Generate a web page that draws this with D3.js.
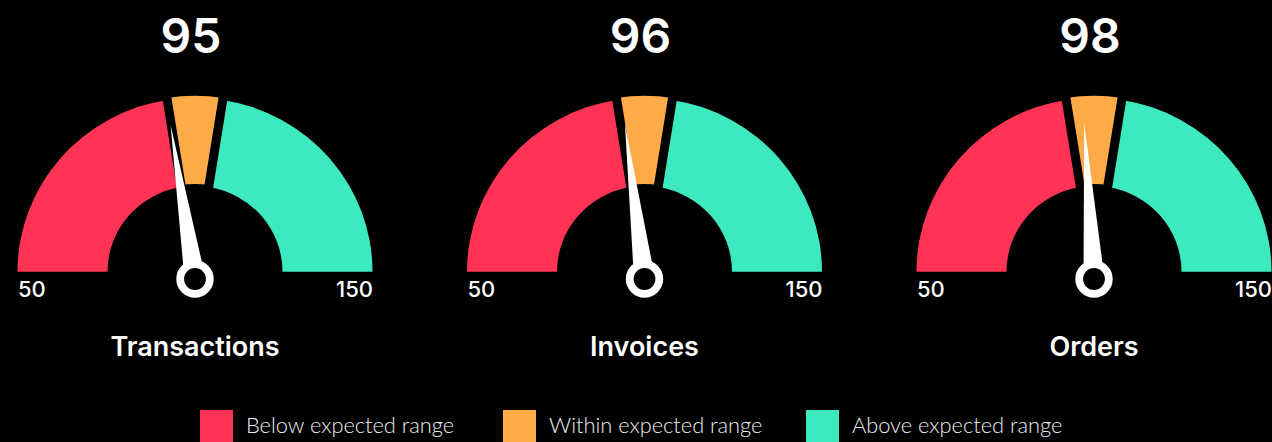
<!DOCTYPE html>
<html>
<head>
<meta charset="utf-8">
<script src="https://cdn.jsdelivr.net/npm/d3@7"></script>
<style>
  body { margin: 0; background: #000; }
  svg { display: block; }
</style>
</head>
<body>
<script>
// data
const gauges = ["Transactions", "Invoices", "Orders"];
const values = [95, 96, 98];
const bandNames = ["Below expected range", "Within expected range", "Above expected range"];
const bandStops = [50, 95, 105, 150];
const bandColors = ["#ff3355", "#fdab47", "#3de9bf"];
const tickLabels = [50, 150];

const outerWidth = 1272;
const outerHeight = 442;

const outerR = 177.5;
const innerR = 87.5;
const baseY = 271.7;
const pivotDrop = 7.3;
const needleLen = 156;

const svg = d3.select('body')
  .append('svg')
  .attr('width', outerWidth)
  .attr('height', outerHeight)
  .style('background', '#000');

const xGauge = d3.scalePoint()
  .domain(gauges)
  .range([195, 1094]);

// value -> angle (radians, 0 = up)
const angle = d3.scaleLinear()
  .domain([tickLabels[0], tickLabels[1]])
  .range([-Math.PI / 2, Math.PI / 2]);

const bands = bandNames.map((name, i) => ({
  name: name,
  from: bandStops[i],
  to: bandStops[i + 1],
  color: bandColors[i],
  lift: i === 1 ? 2 : 0   // middle band sits a little further out
}));

const arc = d3.arc()
  .startAngle(d => angle(d.from))
  .endAngle(d => angle(d.to))
  .innerRadius(d => innerR + d.lift)
  .outerRadius(d => outerR + d.lift);

gauges.forEach((name, gi) => {
  const g = svg.append('g')
    .attr('transform', `translate(${xGauge(name)}, ${baseY})`);

  // dial is a touch flatter than a true circle
  const dial = g.append('g')
    .attr('transform', 'scale(1, 0.98)');

  dial.selectAll('path.band')
    .data(bands)
    .enter()
    .append('path')
    .attr('class', 'band')
    .attr('d', arc)
    .attr('fill', d => d.color);

  // black gaps between bands
  dial.selectAll('line.sep')
    .data(bandStops.slice(1, -1))
    .enter()
    .append('line')
    .attr('class', 'sep')
    .attr('x1', d => Math.sin(angle(d)) * (innerR - 6))
    .attr('y1', d => -Math.cos(angle(d)) * (innerR - 6))
    .attr('x2', d => Math.sin(angle(d)) * (outerR + 12))
    .attr('y2', d => -Math.cos(angle(d)) * (outerR + 12))
    .attr('stroke', '#000')
    .attr('stroke-width', 9);

  // needle
  const a = angle(values[gi]);
  const half = 10.5;
  const tip = [Math.sin(a) * needleLen, pivotDrop - Math.cos(a) * needleLen];
  const b1 = [Math.cos(a) * half, pivotDrop + Math.sin(a) * half];
  const b2 = [-Math.cos(a) * half, pivotDrop - Math.sin(a) * half];
  g.append('path')
    .attr('d', d3.line()([tip, b1, b2]) + 'Z')
    .attr('fill', '#fff');

  g.append('circle')
    .attr('cx', 0)
    .attr('cy', pivotDrop)
    .attr('r', 14.8)
    .attr('fill', '#000')
    .attr('stroke', '#fff')
    .attr('stroke-width', 7.8);

  // end labels
  g.selectAll('text.tick')
    .data(tickLabels)
    .enter()
    .append('text')
    .attr('class', 'tick')
    .attr('x', (d, i) => i === 0 ? -outerR + 0.5 : outerR + 0.5)
    .attr('y', 25.5)
    .attr('text-anchor', (d, i) => i === 0 ? 'start' : 'end')
    .attr('font-family', 'Inter, sans-serif')
    .attr('font-weight', 500)
    .attr('font-size', 22)
    .attr('fill', '#fff')
    .text(d => d);

  // value
  g.append('text')
    .attr('x', -4)
    .attr('y', 53 - baseY)
    .attr('text-anchor', 'middle')
    .attr('font-family', 'Inter, sans-serif')
    .attr('font-weight', 600)
    .attr('font-size', 48)
    .attr('fill', '#fff')
    .text(values[gi]);

  // title
  g.append('text')
    .attr('x', 0)
    .attr('y', 356 - baseY)
    .attr('text-anchor', 'middle')
    .attr('font-family', 'Inter, sans-serif')
    .attr('font-weight', 600)
    .attr('font-size', 27)
    .attr('fill', '#fff')
    .text(name);
});

// legend
const xLegend = d3.scalePoint()
  .domain(bandNames)
  .range([200, 806]);

const legend = svg.selectAll('g.legend')
  .data(bands)
  .enter()
  .append('g')
  .attr('class', 'legend')
  .attr('transform', d => `translate(${xLegend(d.name)}, 410)`);

legend.append('rect')
  .attr('width', 33)
  .attr('height', 32)
  .attr('fill', d => d.color);

legend.append('text')
  .attr('x', 46)
  .attr('y', 23)
  .attr('font-family', 'Lato, sans-serif')
  .attr('font-weight', 300)
  .attr('font-size', 21.8)
  .attr('fill', '#eee')
  .text(d => d.name);
</script>
</body>
</html>
